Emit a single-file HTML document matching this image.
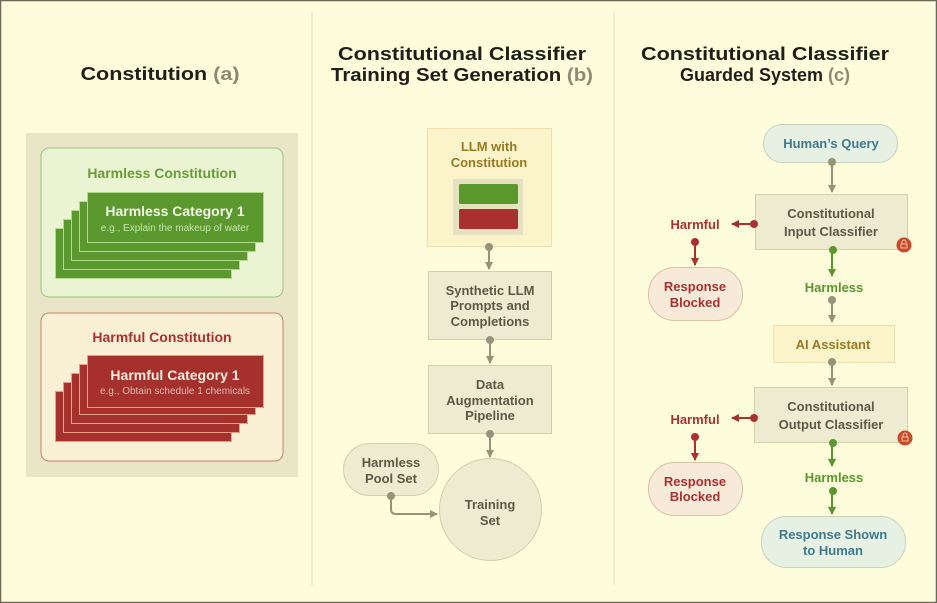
<!DOCTYPE html>
<html><head><meta charset="utf-8"><style>
html,body{margin:0;padding:0;background:#fdfddc;}
svg{display:block;font-family:"Liberation Sans",sans-serif;font-weight:bold;}
</style></head><body>
<svg width="937" height="603" viewBox="0 0 937 603" xmlns="http://www.w3.org/2000/svg">
<defs>
<marker id="ag" markerWidth="8" markerHeight="8" refX="7" refY="4" orient="auto" markerUnits="userSpaceOnUse"><path d="M0,0 L8,4 L0,8 Z" fill="#959378"/></marker>
<marker id="agr" markerWidth="8" markerHeight="8" refX="7" refY="4" orient="auto" markerUnits="userSpaceOnUse"><path d="M0,0 L8,4 L0,8 Z" fill="#5b962e"/></marker>
<marker id="ar" markerWidth="8" markerHeight="8" refX="7" refY="4" orient="auto" markerUnits="userSpaceOnUse"><path d="M0,0 L8,4 L0,8 Z" fill="#a83232"/></marker>
</defs>
<rect x="0" y="0" width="937" height="603" fill="#fdfddc"/>
<rect x="0.5" y="0.5" width="936" height="602" fill="none" stroke="#6a6a5a" stroke-width="1.5"/>
<line x1="312" y1="12" x2="312" y2="585" stroke="#dcdcc0" stroke-width="1"/>
<line x1="614" y1="12" x2="614" y2="585" stroke="#dcdcc0" stroke-width="1"/>

<!-- headings -->
<g font-size="18" fill="#1f1f1a" text-anchor="middle">
<text x="160" y="80" textLength="159" lengthAdjust="spacingAndGlyphs">Constitution <tspan fill="#8a8a76">(a)</tspan></text>
<text x="462" y="60" textLength="248" lengthAdjust="spacingAndGlyphs">Constitutional Classifier</text>
<text x="462" y="81" textLength="262" lengthAdjust="spacingAndGlyphs">Training Set Generation <tspan fill="#8a8a76">(b)</tspan></text>
<text x="765" y="60" textLength="248" lengthAdjust="spacingAndGlyphs">Constitutional Classifier</text>
<text x="765" y="81" textLength="170" lengthAdjust="spacingAndGlyphs">Guarded System <tspan fill="#8a8a76">(c)</tspan></text>
</g>

<!-- panel a -->
<rect x="26" y="133" width="272" height="344" fill="#e8e6c6"/>
<rect x="41" y="148" width="242" height="149" rx="8" fill="#eaf4d2" stroke="#9fc27c" stroke-width="1"/>
<text x="162" y="178" font-size="14" fill="#6a9b3c" text-anchor="middle">Harmless Constitution</text>
<g fill="#5b982d" stroke="#b4d890" stroke-width="1">
<rect x="55.5" y="228.5" width="176" height="50"/>
<rect x="63.5" y="219.5" width="176" height="50"/>
<rect x="71.5" y="210.5" width="176" height="50"/>
<rect x="79.5" y="201.5" width="176" height="50"/>
<rect x="87.5" y="192.5" width="176" height="50"/>
</g>
<text x="175" y="216" font-size="14" fill="#f2f7e8" text-anchor="middle">Harmless Category 1</text>
<text x="175" y="231" font-size="10" font-weight="normal" fill="#c8e2b0" text-anchor="middle">e.g., Explain the makeup of water</text>

<rect x="41" y="313" width="242" height="148" rx="8" fill="#f9efd5" stroke="#c4866e" stroke-width="1"/>
<text x="162" y="342" font-size="14" fill="#a83232" text-anchor="middle">Harmful Constitution</text>
<g fill="#a5302d" stroke="#e4a080" stroke-width="1">
<rect x="55.5" y="391.5" width="176" height="50"/>
<rect x="63.5" y="382.5" width="176" height="50"/>
<rect x="71.5" y="373.5" width="176" height="50"/>
<rect x="79.5" y="364.5" width="176" height="50"/>
<rect x="87.5" y="355.5" width="176" height="52"/>
</g>
<text x="175" y="380" font-size="14" fill="#f7eadc" text-anchor="middle">Harmful Category 1</text>
<text x="175" y="394" font-size="10" font-weight="normal" fill="#e6b8a8" text-anchor="middle">e.g., Obtain schedule 1 chemicals</text>

<!-- panel b -->
<g stroke="#959378" stroke-width="2" fill="none">
<line x1="489" y1="247" x2="489" y2="269" marker-end="url(#ag)"/>
<line x1="490" y1="340" x2="490" y2="363" marker-end="url(#ag)"/>
<line x1="490" y1="434" x2="490" y2="457" marker-end="url(#ag)"/>
<path d="M391,496 V509 Q391,514 396,514 H437" marker-end="url(#ag)"/>
</g>
<rect x="427.5" y="128.5" width="124" height="118" fill="#fbf4cb" stroke="#efdfa8"/>
<text x="489" y="151" font-size="13" fill="#9a7a22" text-anchor="middle">LLM with</text>
<text x="489" y="167" font-size="13" fill="#9a7a22" text-anchor="middle">Constitution</text>
<rect x="453" y="179" width="70" height="56" fill="#e5e2c0"/>
<rect x="459" y="184" width="59" height="20" rx="1.5" fill="#5a982d"/>
<rect x="459" y="209" width="59" height="20" rx="1.5" fill="#a8302e"/>
<rect x="428.5" y="271.5" width="123" height="68" fill="#eeecd0" stroke="#d2cfaa"/>
<g font-size="13" fill="#5c5a44" text-anchor="middle">
<text x="490" y="295">Synthetic LLM</text>
<text x="490" y="310">Prompts and</text>
<text x="490" y="326">Completions</text>
</g>
<rect x="428.5" y="365.5" width="123" height="68" fill="#eeecd0" stroke="#d2cfaa"/>
<g font-size="13" fill="#5c5a44" text-anchor="middle">
<text x="490" y="389">Data</text>
<text x="490" y="405">Augmentation</text>
<text x="490" y="420">Pipeline</text>
</g>
<rect x="343.5" y="443.5" width="95" height="52" rx="26" fill="#eeecd0" stroke="#d2cfaa"/>
<text x="391" y="467" font-size="13" fill="#5c5a44" text-anchor="middle">Harmless</text>
<text x="391" y="483" font-size="13" fill="#5c5a44" text-anchor="middle">Pool Set</text>
<circle cx="490.5" cy="509.5" r="51" fill="#eeecd0" stroke="#d2cfaa"/>
<text x="490" y="509" font-size="13" fill="#5c5a44" text-anchor="middle">Training</text>
<text x="490" y="525" font-size="13" fill="#5c5a44" text-anchor="middle">Set</text>
<g fill="#959378"><circle cx="489" cy="247" r="4"/><circle cx="490" cy="340" r="4"/><circle cx="490" cy="434" r="4"/><circle cx="391" cy="496" r="4"/></g>

<!-- panel c -->
<g stroke-width="2" fill="none">
<line x1="832" y1="162" x2="832" y2="192" stroke="#959378" marker-end="url(#ag)"/>
<line x1="832" y1="250" x2="832" y2="276" stroke="#5b962e" marker-end="url(#agr)"/>
<line x1="832" y1="300" x2="832" y2="322" stroke="#959378" marker-end="url(#ag)"/>
<line x1="832" y1="362" x2="832" y2="385" stroke="#959378" marker-end="url(#ag)"/>
<line x1="832" y1="443" x2="832" y2="466" stroke="#5b962e" marker-end="url(#agr)"/>
<line x1="832" y1="491" x2="832" y2="514" stroke="#5b962e" marker-end="url(#agr)"/>
<line x1="754" y1="224" x2="732" y2="224" stroke="#a83232" marker-end="url(#ar)"/>
<line x1="695" y1="242" x2="695" y2="265" stroke="#a83232" marker-end="url(#ar)"/>
<line x1="754" y1="418" x2="732" y2="418" stroke="#a83232" marker-end="url(#ar)"/>
<line x1="695" y1="437" x2="695" y2="460" stroke="#a83232" marker-end="url(#ar)"/>
</g>
<rect x="763.5" y="124.5" width="134" height="38" rx="19" fill="#e7f1e3" stroke="#c4d4c0"/>
<text x="831" y="148" font-size="13" fill="#3f7a8c" text-anchor="middle">Human’s Query</text>
<rect x="755.5" y="194.5" width="152" height="55" fill="#eeecd0" stroke="#d2cfaa"/>
<text x="831" y="218" font-size="13" fill="#5c5a44" text-anchor="middle">Constitutional</text>
<text x="831" y="236" font-size="13" fill="#5c5a44" text-anchor="middle">Input Classifier</text>
<rect x="773.5" y="325.5" width="121" height="37" fill="#fbf4cb" stroke="#efdfa8"/>
<text x="833" y="349" font-size="13" fill="#9a7a22" text-anchor="middle">AI Assistant</text>
<rect x="754.5" y="387.5" width="153" height="55" fill="#eeecd0" stroke="#d2cfaa"/>
<text x="831" y="411" font-size="13" fill="#5c5a44" text-anchor="middle">Constitutional</text>
<text x="831" y="429" font-size="13" fill="#5c5a44" text-anchor="middle">Output Classifier</text>
<g fill="#c74a2a"><circle cx="904" cy="245" r="7.5"/><circle cx="905" cy="438" r="7.5"/></g>
<g fill="none" stroke="#f3c0a0" stroke-width="1"><rect x="901" y="244" width="6" height="4"/><rect x="902" y="437" width="6" height="4"/><path d="M902,244 v-2 a2,2 0 0 1 4,0 v2"/><path d="M903,437 v-2 a2,2 0 0 1 4,0 v2"/></g>
<g fill="#959378"><circle cx="832" cy="300" r="4"/><circle cx="832" cy="362" r="4"/><circle cx="832" cy="162" r="4"/></g>
<g fill="#5b962e"><circle cx="833" cy="250" r="4"/><circle cx="833" cy="443" r="4"/><circle cx="833" cy="491" r="4"/></g>
<g fill="#a83232"><circle cx="754" cy="224" r="4"/><circle cx="695" cy="242" r="4"/><circle cx="754" cy="418" r="4"/><circle cx="695" cy="437" r="4"/></g>
<text x="695" y="229" font-size="13" fill="#a83232" text-anchor="middle">Harmful</text>
<text x="695" y="424" font-size="13" fill="#a83232" text-anchor="middle">Harmful</text>
<text x="834" y="292" font-size="13" fill="#5b962e" text-anchor="middle">Harmless</text>
<text x="834" y="482" font-size="13" fill="#5b962e" text-anchor="middle">Harmless</text>
<rect x="648.5" y="267.5" width="94" height="53" rx="26" fill="#f8ead8" stroke="#dcc0a8"/>
<text x="695" y="291" font-size="13" fill="#a83232" text-anchor="middle">Response</text>
<text x="695" y="307" font-size="13" fill="#a83232" text-anchor="middle">Blocked</text>
<rect x="648.5" y="462.5" width="94" height="53" rx="26" fill="#f8ead8" stroke="#dcc0a8"/>
<text x="695" y="486" font-size="13" fill="#a83232" text-anchor="middle">Response</text>
<text x="695" y="501" font-size="13" fill="#a83232" text-anchor="middle">Blocked</text>
<rect x="761.5" y="516.5" width="144" height="51" rx="25" fill="#e7f1e3" stroke="#c4d4c0"/>
<text x="833" y="539" font-size="13" fill="#3f7a8c" text-anchor="middle">Response Shown</text>
<text x="833" y="555" font-size="13" fill="#3f7a8c" text-anchor="middle">to Human</text>
</svg>
</body></html>
